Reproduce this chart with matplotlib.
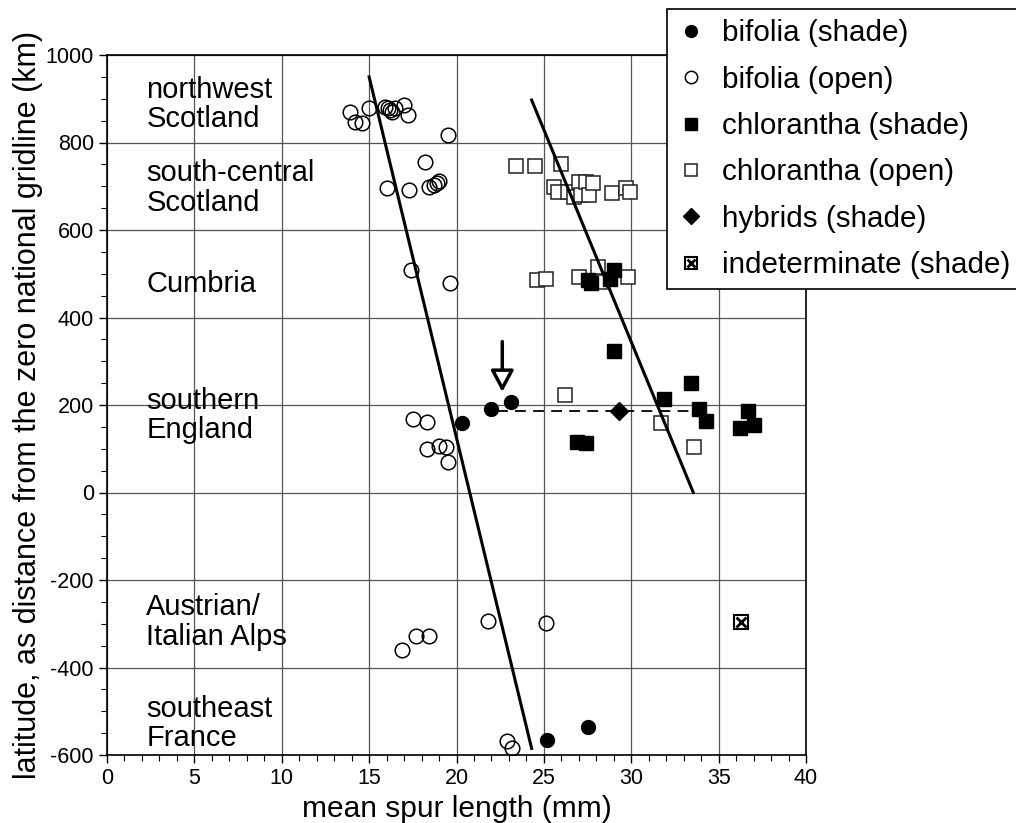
import matplotlib
matplotlib.use("Agg")
import matplotlib.pyplot as plt

plt.rcParams['font.family'] = ['Liberation Sans', 'DejaVu Sans']
plt.rcParams['axes.unicode_minus'] = False

# bifolia, shade
bifShadeX = [20.3, 22.0, 23.1, 25.2, 27.5]
bifShadeY = [160, 190, 208, -566, -535]

# bifolia, open
bifOpenX = [13.9, 14.2, 14.6, 15.0, 15.9, 16.1, 16.2, 16.3, 16.5, 17.0, 17.2, 19.5,
            18.2, 16.0, 17.3, 18.4, 18.7, 18.9, 19.0,
            17.4, 19.6,
            17.5, 18.3, 18.3, 19.0, 19.4, 19.5,
            16.9, 17.7, 18.4, 21.8, 25.1,
            22.9, 23.2]
bifOpenY = [870, 848, 844, 878, 882, 878, 874, 870, 880, 886, 863, 817,
            755, 695, 691, 699, 703, 708, 711,
            509, 480,
            167, 162, 99, 107, 105, 70,
            -360, -327, -327, -293, -299,
            -568, -585]

# chlorantha, shade
chlShadeX = [27.5, 27.7, 28.8, 29.0, 29.0, 26.9, 27.4, 33.4, 31.9, 33.9, 34.3, 36.7, 36.2, 37.0]
chlShadeY = [486, 478, 487, 509, 324, 115, 113, 250, 213, 190, 163, 186, 148, 154]

# chlorantha, open
chlOpenX = [23.4, 24.5, 26.0, 25.6, 25.8, 26.4, 26.7, 27.0, 27.1, 27.4, 27.6, 27.8, 28.9, 29.7, 29.9,
            24.6, 25.1, 27.0, 28.1, 28.2, 29.8,
            26.2, 31.7, 33.6]
chlOpenY = [747, 747, 751, 699, 688, 688, 676, 710, 680, 710, 680, 707, 684, 695, 688,
            486, 488, 493, 516, 482, 493,
            223, 160, 105]

hybridX = [29.3]
hybridY = [187]
indetX = [36.3]
indetY = [-297]

# regression lines
bifLineX = [15.0, 24.3]
bifLineY = [950, -585]
chlLineX = [24.3, 33.55]
chlLineY = [897, 0]

# dashed line between the species near the arrow
dashX = [22.3, 33.9]
dashY = [187, 187]
arrowX = 22.62
arrowTop = 345
arrowTip = 230

regions = ["northwest\nScotland", "south-central\nScotland", "Cumbria",
           "southern\nEngland", "Austrian/\nItalian Alps", "southeast\nFrance"]
regionY = [886, 696, 477, 175, -296, -527]

fig = plt.figure(figsize=(10.16, 8.23), dpi=100)
ax = fig.add_axes([107/1016, 1-755/823, 699/1016, 700/823])

ax.grid(True, which="major", color="#555555", linewidth=0.9)
ax.set_axisbelow(True)

h1, = ax.plot(bifShadeX, bifShadeY, "o", color="black", markersize=10, linestyle="none")
h2, = ax.plot(bifOpenX, bifOpenY, "o", markerfacecolor="none", markeredgecolor="black",
              markeredgewidth=1.1, markersize=10.5, linestyle="none")
h4, = ax.plot(chlOpenX, chlOpenY, "s", markerfacecolor="white", markeredgecolor="#222222",
              markeredgewidth=1.1, markersize=10.5, linestyle="none")
h3, = ax.plot(chlShadeX, chlShadeY, "s", color="black", markersize=10.5, linestyle="none")
h5, = ax.plot(hybridX, hybridY, "D", color="black", markersize=9, linestyle="none")
h6a, = ax.plot(indetX, indetY, "s", markerfacecolor="white", markeredgecolor="black",
               markeredgewidth=1.5, markersize=10, linestyle="none")
h6b, = ax.plot(indetX, indetY, "x", color="black", markeredgewidth=2, markersize=7.5, linestyle="none")

ax.plot(bifLineX, bifLineY, color="black", linewidth=2.2)
ax.plot(chlLineX, chlLineY, color="black", linewidth=2.2)
ax.plot(dashX, dashY, color="black", linewidth=1.3, dashes=(6, 4))

ax.annotate("", xy=(arrowX, arrowTip), xytext=(arrowX, arrowTop),
            arrowprops=dict(arrowstyle="-|>,head_length=0.65,head_width=0.35",
                            facecolor="white", edgecolor="black", linewidth=2.5,
                            mutation_scale=20, shrinkA=0, shrinkB=0))

for name, y in zip(regions, regionY):
    ax.text(2.25, y, name, fontsize=21, va="center", ha="left", linespacing=1.05)

ax.set_xlim(0, 40)
ax.set_ylim(-600, 1000)
ax.set_xticks(range(0, 41, 5))
ax.set_xticks(range(0, 41, 1), minor=True)
ax.set_yticks(range(-600, 1001, 200))
ax.set_yticks(range(-600, 1001, 50), minor=True)
ax.tick_params(which="major", direction="out", length=6, width=1, labelsize=15.5, colors="black")
ax.tick_params(which="minor", direction="out", length=4, width=0.8)
for s in ax.spines.values():
    s.set_linewidth(1.2)

ax.set_xlabel("mean spur length (mm)", fontsize=21.5, labelpad=4)
ax.set_ylabel("latitude, as distance from the zero national gridline (km)", fontsize=22, labelpad=2)

leg = fig.legend([h1, h2, h3, h4, h5, (h6a, h6b)],
                 ["bifolia (shade)", "bifolia (open)", "chlorantha (shade)",
                  "chlorantha (open)", "hybrids (shade)", "indeterminate (shade)"],
                 loc="upper left", bbox_to_anchor=(667/1016, 1-9/823),
                 bbox_transform=fig.transFigure, borderaxespad=0,
                 fontsize=21.3, markerscale=0.85, handlelength=0.9, handletextpad=0.6,
                 labelspacing=0.62, fancybox=False, framealpha=1, edgecolor="black",
                 borderpad=0.35)
leg.get_frame().set_linewidth(1.2)

fig.savefig("out.png", dpi=100)
